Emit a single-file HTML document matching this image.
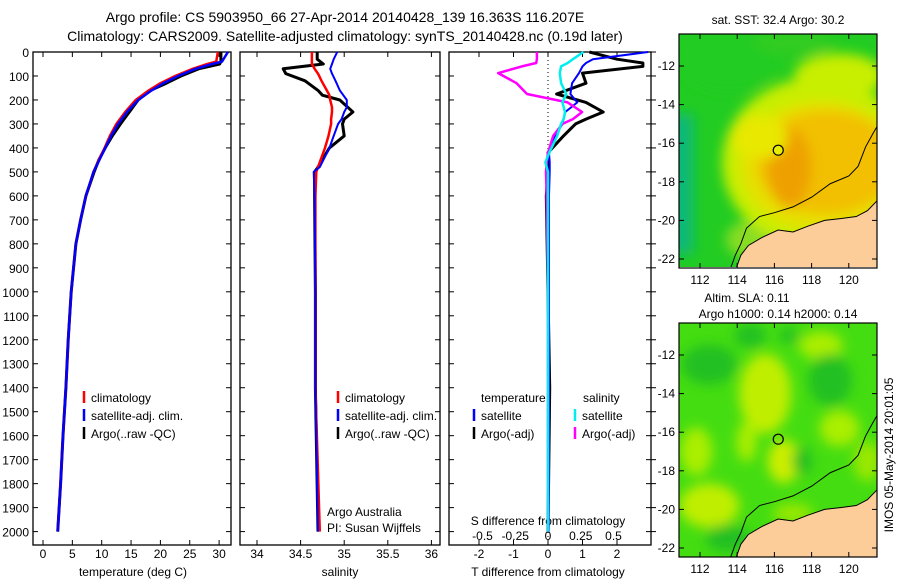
<!DOCTYPE html>
<html><head><meta charset="utf-8"><style>
body{margin:0;background:#fff;}
svg{display:block;font-family:"Liberation Sans",sans-serif;}
</style></head><body>
<svg id="c" width="900" height="580" xmlns="http://www.w3.org/2000/svg">
<defs>
<filter id="bl" x="-50%" y="-50%" width="200%" height="200%"><feGaussianBlur stdDeviation="6"/></filter>
<clipPath id="m1c"><rect x="679" y="34" width="198" height="233"/></clipPath>
<clipPath id="m2c"><rect x="679" y="323" width="198" height="234"/></clipPath>
</defs>
<text x="345" y="22" font-size="14" text-anchor="middle">Argo profile: CS 5903950_66 27-Apr-2014 20140428_139 16.363S 116.207E</text>
<text x="345" y="41" font-size="14" text-anchor="middle">Climatology: CARS2009. Satellite-adjusted climatology: synTS_20140428.nc (0.19d later)</text>
<g id="g"></g>
</svg>
<script>
// ---- data ----
const tDepth=[0,40,50,70,100,130,160,200,250,300,350,400,450,500,600,700,800,1000,1200,1400,1600,1800,2000];
const tClim=[29.8,29.5,28,25.5,22.5,20,18,15.8,14,12.5,11.4,10.5,9.5,8.6,7.3,6.4,5.6,4.8,4.3,3.9,3.4,3.0,2.5];
const tSat =[31.5,30.5,28.8,26,23,20.5,18.5,16.2,14.3,12.8,11.6,10.6,9.6,8.6,7.3,6.4,5.6,4.8,4.3,3.9,3.4,3.0,2.5];
const tArgo=[30.3,30.3,30.1,26.5,23.5,21,18.3,16.2,14.7,13.2,11.8,10.6,9.5,8.7,7.3,6.4,5.6,4.8,4.3,3.9,3.4,3.0,2.5];
const sDepth=[0,30,50,70,90,120,160,180,200,230,250,280,300,350,400,480,500,600,1000,1400,2000];
const sClim=[34.63,34.63,34.63,34.66,34.7,34.74,34.8,34.83,34.84,34.86,34.86,34.85,34.85,34.82,34.78,34.7,34.68,34.67,34.67,34.67,34.72];
const sSat =[34.92,34.88,34.86,34.84,34.86,34.9,34.95,34.99,35.03,35.03,35.0,34.97,34.93,34.88,34.83,34.72,34.65,34.66,34.67,34.67,34.7];
const sArgo=[34.69,34.69,34.76,34.3,34.33,34.55,34.7,34.75,34.95,35.04,35.1,35.0,34.98,35.0,34.83,34.7,34.66,34.66,34.67,34.67,34.7];
const dDepth=[0,30,46,60,88,130,175,210,250,280,300,350,420,460,500,600,1000,1400,2000];
const dTsat =[2.9,1.3,1.1,1.0,0.9,0.7,0.65,0.85,0.5,0.45,0.42,0.2,0.03,0.05,0.05,0.03,0.03,0.03,0.02];
const dTargo=[1.2,2.0,2.75,2.75,1.0,1.1,0.25,1.1,1.6,1.1,0.8,0.45,0.0,0.0,0.0,-0.05,0.0,0.05,0.0];
const dSsat =[0.27,0.19,0.15,0.1,0.09,0.1,0.14,0.11,0.13,0.12,0.1,0.07,0.01,-0.02,0.0,0.0,0.0,0.0,0.0];
const dSargo=[-0.085,-0.085,-0.09,-0.2,-0.38,-0.24,-0.16,0.15,0.26,0.19,0.11,0.04,0.0,-0.01,-0.015,-0.01,0.0,0.0,0.0];
const depthTicks=[0,100,200,300,400,500,600,700,800,900,1000,1100,1200,1300,1400,1500,1600,1700,1800,1900,2000];
const tTicks=[0,5,10,15,20,25,30];
const sTicks=[34,34.5,35,35.5,36];
const dTTicks=[-2,-1,0,1,2];
const dSTicks=[-0.5,-0.25,0,0.25,0.5];
const dSLabels=["-0.5","-0.25","0","0.25","0.5"];
const latTicks=[12,14,16,18,20,22];
const lonTicks=[112,114,116,118,120];
const floatLon=116.207, floatLat=16.363;

const NS="http://www.w3.org/2000/svg";
const G=document.getElementById('g');
function mk(tag,at,parent){const e=document.createElementNS(NS,tag);for(const k in at)e.setAttribute(k,at[k]);(parent||G).appendChild(e);return e;}
function txt(x,y,s,size,anchor,parent){const e=mk('text',{x:x,y:y,'font-size':size,'text-anchor':anchor||'middle'},parent);e.textContent=s;return e;}
const Y0=52,YS=0.2398,YB=545;
const yD=d=>Y0+d*YS;
const xT=v=>43+v*5.87;
const xS=v=>257+(v-34)*87.2;
const xDT=v=>548+v*34.5;
const xDS=v=>548+v*131;
function panel(x0,x1,name){
  const r=mk('rect',{x:x0,y:Y0,width:x1-x0,height:YB-Y0,fill:'#fff',stroke:'#000','stroke-width':1.3});
  
  
}
panel(33,231,'temperature-panel');panel(240,440,'salinity-panel');panel(449,651,'difference-panel');
depthTicks.forEach(d=>{
  const t=txt(29,yD(d)+5,String(d),12,'end');
  
  
  [[33,38],[226,231],[240,245],[435,440],[449,454],[646,651],[651,656]].forEach(p=>mk('line',{x1:p[0],x2:p[1],y1:yD(d),y2:yD(d),stroke:'#000'}));
});
function xticks(vals,labels,fx,ly,name){
  vals.forEach((v,i)=>{const x=fx(v);
    mk('line',{x1:x,x2:x,y1:YB,y2:YB-5,stroke:'#000'});mk('line',{x1:x,x2:x,y1:Y0,y2:Y0+5,stroke:'#000'});
    const t=txt(x,ly,labels[i],12);
    
    
  });
}
xticks(tTicks,tTicks.map(String),xT,558,'temperature-tick-label');
xticks(sTicks,sTicks.map(String),xS,558,'salinity-tick-label');
xticks(dTTicks,dTTicks.map(String),xDT,558,'t-diff-tick-label');
dSTicks.forEach((v,i)=>{const t=txt(xDS(v),540,dSLabels[i],12);
  
  });
[['temperature (deg C)',133],['salinity',340],['T difference from climatology',548]].forEach(a=>{
  const t=txt(a[1],576,a[0],12);
  
  });
{const t=txt(548,525,'S difference from climatology',12);
 
 }
mk('line',{x1:548,x2:548,y1:Y0,y2:YB,stroke:'#000','stroke-dasharray':'1,3'});
function line(xs,ds,fx,col,w,name){
  const pts=xs.map((v,i)=>fx(v).toFixed(1)+','+yD(ds[i]).toFixed(1)).join(' ');
  const p=mk('polyline',{points:pts,fill:'none',stroke:col,'stroke-width':w,'stroke-linejoin':'round'});
  
  
}
line(tArgo,tDepth,xT,'#000',3,'temperature-argo-line');
line(tClim,tDepth,xT,'#f00',2.5,'temperature-climatology-line');
line(tSat,tDepth,xT,'#00f',2.5,'temperature-satellite-line');
line(sArgo,sDepth,xS,'#000',3,'salinity-argo-line');
line(sClim,sDepth,xS,'#f00',2.5,'salinity-climatology-line');
line(sSat,sDepth,xS,'#00f',2,'salinity-satellite-line');
line(dTargo,dDepth,xDT,'#000',3,'t-diff-argo-line');
line(dTsat,dDepth,xDT,'#00f',2,'t-diff-satellite-line');
line(dSargo,dDepth,xDS,'#f0f',2.5,'s-diff-argo-line');
line(dSsat,dDepth,xDS,'#0ee',2.5,'s-diff-satellite-line');
function leg(x,y,col,label,name){
  mk('line',{x1:x,x2:x,y1:y-11,y2:y+1,stroke:col,'stroke-width':2.5});
  const t=txt(x+7,y,label,12,'start');
  
  
}
[[84],[338]].forEach(a=>{
  leg(a[0],402,'#f00','climatology','legend-climatology');
  leg(a[0],420,'#00f','satellite-adj. clim.','legend-satellite');
  leg(a[0],438,'#000','Argo(..raw -QC)','legend-argo');
});
txt(481,402,'temperature',12,'start');txt(583,402,'salinity',12,'start');
leg(474,420,'#00f','satellite','legend-t-satellite');leg(474,438,'#000','Argo(-adj)','legend-t-argo');
leg(575,420,'#0ee','satellite','legend-s-satellite');leg(575,438,'#f0f','Argo(-adj)','legend-s-argo');
txt(327,516,'Argo Australia',12,'start');txt(327,532,'PI: Susan Wijffels',12,'start');
const mx=lon=>700+(lon-112)*18.6;
function map(top,clip,kind,name){
  const my=lat=>top+32+(lat-12)*19.3;
  const g=mk('g',{'clip-path':'url(#'+clip+')'});
  
  
  const fx=mx(110.9),fy=my(10.3);
  if(kind===1){
    mk('rect',{x:fx,y:fy,width:210,height:240,fill:'#22cc22'},g);
    const bl=mk('g',{filter:'url(#bl)'},g);
    mk('rect',{x:fx-10,y:my(14.5),width:24,height:140,fill:'#10b878'},bl);
    mk('ellipse',{cx:mx(115),cy:my(21),rx:30,ry:20,fill:'#88dd22'},bl);
    mk('ellipse',{cx:mx(119.5),cy:my(12.5),rx:45,ry:22,fill:'#c8ee00'},bl);
    mk('ellipse',{cx:mx(118.3),cy:my(17),rx:95,ry:85,fill:'#c8ee00'},bl);
    mk('ellipse',{cx:mx(118.5),cy:my(17.2),rx:80,ry:65,fill:'#e6e000'},bl);
    mk('ellipse',{cx:mx(118.8),cy:my(17),rx:70,ry:52,fill:'#f2c000'},bl);
    mk('ellipse',{cx:mx(116.8),cy:my(17.3),rx:22,ry:40,fill:'#eea000'},bl);
    mk('ellipse',{cx:mx(115.2),cy:my(15.7),rx:28,ry:22,fill:'#e8e800'},bl);
    mk('ellipse',{cx:mx(113.5),cy:my(11.5),rx:50,ry:35,fill:'#22cc22'},bl);
    mk('ellipse',{cx:mx(117),cy:my(10.8),rx:40,ry:12,fill:'#33cc22'},bl);
  } else {
    mk('rect',{x:fx,y:fy,width:210,height:240,fill:'#44dd11'},g);
    const bl=mk('g',{filter:'url(#bl)'},g);
    [[115.5,14,26,40,'#c0ee00'],[116.5,17.5,16,22,'#ccee00'],[119.5,15.8,20,18,'#aaee00'],[112.5,19.8,30,22,'#c0ee00'],
     [111.8,17,16,24,'#aaee00'],[118.5,11.5,22,14,'#aaee00'],[114.5,16.5,10,20,'#aaee00'],[121,17.5,14,20,'#99e800'],[117,20.2,20,10,'#99e800']
    ].forEach(b=>mk('ellipse',{cx:mx(b[0]),cy:my(b[1]),rx:b[2],ry:b[3],fill:b[4]},bl));
    [[112.5,12.5,28,20],[119,13.3,22,26],[114.7,11,16,12],[117.5,17.5,10,14],[116.8,11,10,8],[113.5,21.5,22,14]].forEach(b=>mk('ellipse',{cx:mx(b[0]),cy:my(b[1]),rx:b[2],ry:b[3],fill:'#22c022'},bl));
  }
  const land=[[113.9,22.6],[114.2,21.8],[114.6,21.3],[115.3,20.9],[116.2,20.5],[117,20.6],[117.8,20.3],[118.7,20.0],[119.6,19.9],[120.4,19.8],[121.0,19.5],[121.6,18.9],[121.8,23],[113.9,23]];
  mk('polygon',{points:land.map(p=>mx(p[0])+','+my(p[1])).join(' '),fill:'#fccc99',stroke:'#000','stroke-width':1},g);
  const iso=[[113.6,22.6],[113.9,21.8],[114.2,21.2],[114.5,20.4],[115.2,19.8],[116,19.6],[117,19.3],[118,18.8],[119,18.1],[120,17.7],[120.5,17.2],[120.9,16.2],[121.3,15.5],[121.6,15.0]];
  mk('polyline',{points:iso.map(p=>mx(p[0])+','+my(p[1])).join(' '),fill:'none',stroke:'#000','stroke-width':1},g);
  const c=mk('circle',{cx:mx(floatLon),cy:my(floatLat),r:5,fill:kind===1?'#e8ee00':'none',stroke:'#000','stroke-width':1.2});
  
  
  mk('rect',{x:679,y:top,width:198,height:234,fill:'none',stroke:'#000','stroke-width':1.2});
  latTicks.forEach(l=>{mk('line',{x1:679,x2:684,y1:my(l),y2:my(l),stroke:'#000'});mk('line',{x1:872,x2:877,y1:my(l),y2:my(l),stroke:'#000'});
    const t=txt(675,my(l)+4,'-'+l,12,'end');
    
    });
  lonTicks.forEach(l=>{mk('line',{x1:mx(l),x2:mx(l),y1:top,y2:top+5,stroke:'#000'});mk('line',{x1:mx(l),x2:mx(l),y1:top+234,y2:top+229,stroke:'#000'});
    const t=txt(mx(l),top+250,String(l),12);
    
    });
}
map(34,'m1c',1,'sst-map');
map(323,'m2c',2,'sla-map');
txt(778,24,'sat. SST: 32.4  Argo: 30.2',12);
txt(747,302,'Altim. SLA: 0.11',12);
txt(778,318,'Argo h1000: 0.14 h2000: 0.14',12);
const st=txt(0,0,'IMOS 05-May-2014 20:01:05',12);
st.setAttribute('transform','translate(893,455) rotate(-90)');


</script>
</body></html>
